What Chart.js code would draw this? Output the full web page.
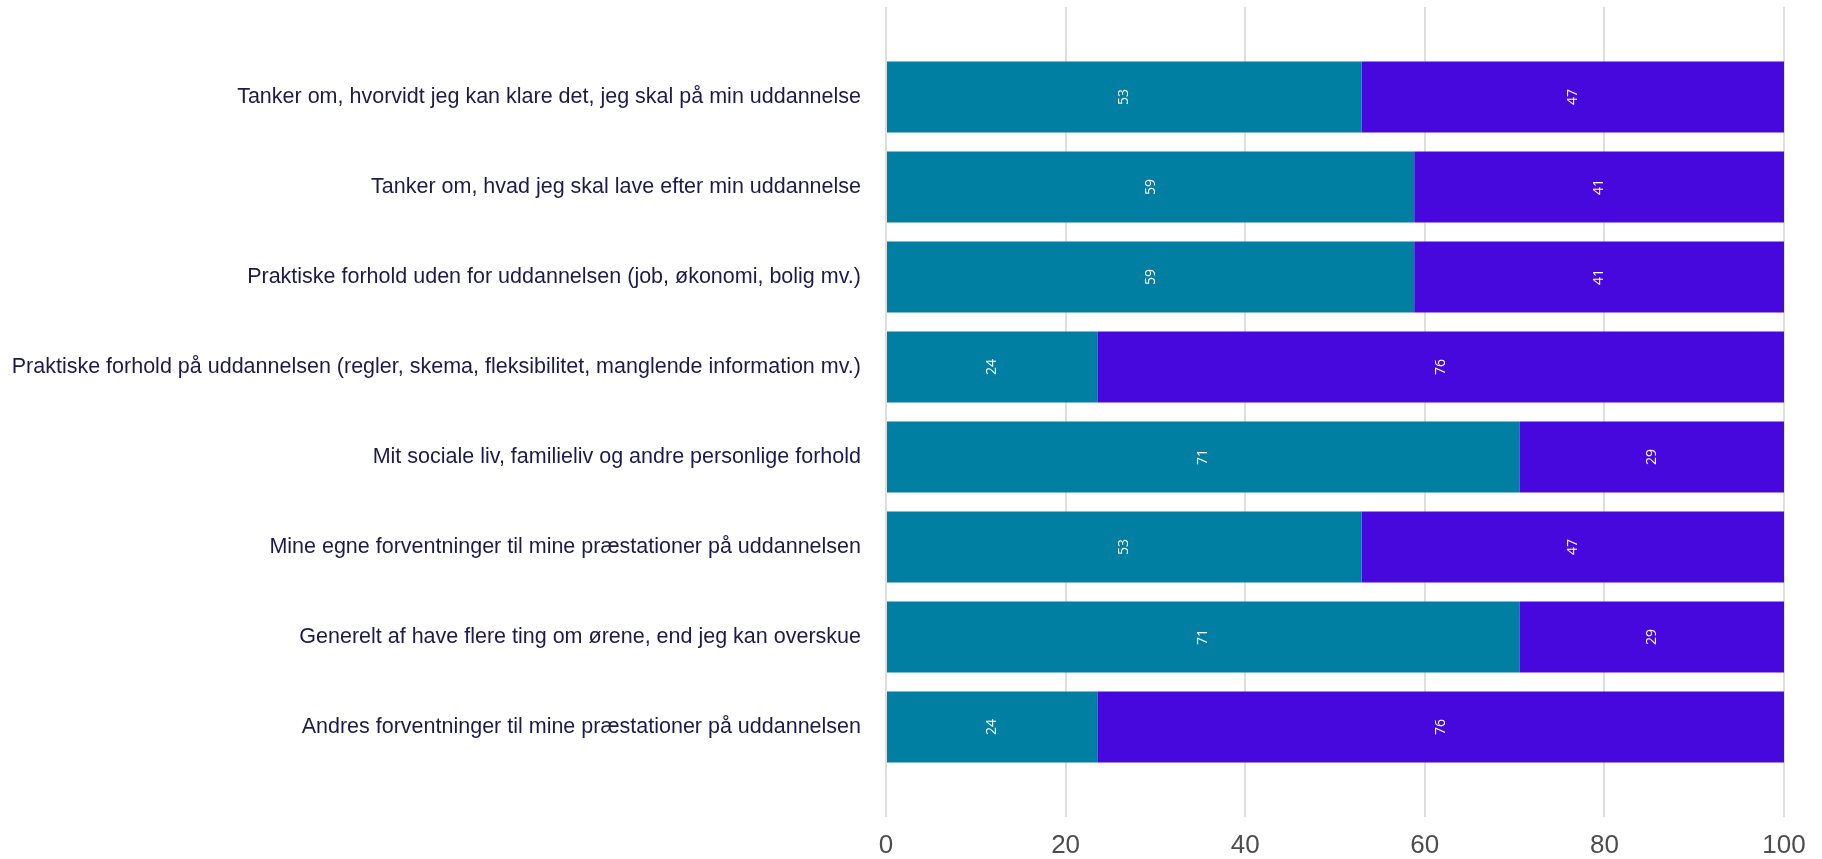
<!DOCTYPE html>
<html>
<head>
<meta charset="utf-8">
<script src="https://cdn.jsdelivr.net/npm/chart.js@4/dist/chart.umd.min.js"></script>
<style>
    html, body { margin: 0; padding: 0; background: #ffffff; }
    #wrap { width: 1822px; height: 859px; position: relative; }
</style>
</head>
<body>
<div id="wrap"><canvas id="chart"></canvas></div>
<script>
// categories, top to bottom
const categories = [
    "Tanker om, hvorvidt jeg kan klare det, jeg skal på min uddannelse",
    "Tanker om, hvad jeg skal lave efter min uddannelse",
    "Praktiske forhold uden for uddannelsen (job, økonomi, bolig mv.)",
    "Praktiske forhold på uddannelsen (regler, skema, fleksibilitet, manglende information mv.)",
    "Mit sociale liv, familieliv og andre personlige forhold",
    "Mine egne forventninger til mine præstationer på uddannelsen",
    "Generelt af have flere ting om ørene, end jeg kan overskue",
    "Andres forventninger til mine præstationer på uddannelsen"
];

// percentages
const seriesA = [52.94, 58.82, 58.82, 23.53, 70.59, 52.94, 70.59, 23.53];
const seriesB = [47.06, 41.18, 41.18, 76.47, 29.41, 47.06, 29.41, 76.47];

const xTicks = [0, 20, 40, 60, 80, 100];

const colorA = "#007fa3";
const colorB = "#4608dd";

function toPoints(values)
{
    return values.map((v, i) => ({ x: v, y: i + 1 }));
}

// white rotated value labels in the middle of each segment
const barLabels = {
    id: "barLabels",
    afterDatasetsDraw(chart)
    {
        const ctx = chart.ctx;
        ctx.save();
        ctx.fillStyle = "#ffffff";
        ctx.font = "14px 'Open Sans', 'DejaVu Sans', sans-serif";
        ctx.textAlign = "center";
        ctx.textBaseline = "middle";
        chart.data.datasets.forEach((ds, di) =>
        {
            const meta = chart.getDatasetMeta(di);
            meta.data.forEach((bar, i) =>
            {
                const cx = (bar.x + bar.base) / 2;
                ctx.save();
                ctx.translate(cx, bar.y);
                ctx.rotate(-Math.PI / 2);
                ctx.fillText(String(Math.round(ds.data[i].x)), 0, 0);
                ctx.restore();
            });
        });
        ctx.restore();
    }
};

const ctx = document.getElementById("chart").getContext("2d");

new Chart(ctx,
    {
        type: "bar",
        data: {
            datasets: [
                {
                    label: "A",
                    data: toPoints(seriesA),
                    backgroundColor: colorA,
                    borderWidth: 0,
                    categoryPercentage: 1,
                    barPercentage: 0.79
                },
                {
                    label: "B",
                    data: toPoints(seriesB),
                    backgroundColor: colorB,
                    borderWidth: 0,
                    categoryPercentage: 1,
                    barPercentage: 0.79
                }
            ]
        },
        options: {
            indexAxis: "y",
            responsive: true,
            maintainAspectRatio: false,
            animation: false,
            layout: { padding: { top: 7, right: 38, bottom: 0, left: 0 } },
            plugins: {
                legend: { display: false },
                tooltip: { enabled: false }
            },
            scales: {
                x: {
                    type: "linear",
                    stacked: true,
                    min: 0,
                    max: 100,
                    afterBuildTicks: (scale) => { scale.ticks = xTicks.map(v => ({ value: v })); },
                    afterFit: (scale) => { scale.height = 42; scale.paddingLeft = 0; scale.paddingRight = 0; },
                    grid: {
                        color: "#dedede",
                        lineWidth: 2,
                        drawTicks: false
                    },
                    border: { display: false },
                    ticks: {
                        color: "#4d4d4d",
                        padding: 13,
                        font: { family: "'Liberation Sans', Arial, sans-serif", size: 26 }
                    }
                },
                y: {
                    type: "linear",
                    stacked: true,
                    reverse: true,
                    offset: false,
                    min: 0,
                    max: 9,
                    afterBuildTicks: (scale) => { scale.ticks = categories.map((c, i) => ({ value: i + 1 })); },
                    afterFit: (scale) => { scale.width = 886; scale.paddingTop = 0; scale.paddingBottom = 0; },
                    grid: { display: false, offset: false, drawTicks: false },
                    border: { display: false },
                    ticks: {
                        color: "#1e1a4c",
                        padding: 25,
                        autoSkip: false,
                        font: { family: "'Liberation Sans', Arial, sans-serif", size: 21.5 },
                        callback: (v) => categories[v - 1] || ""
                    }
                }
            }
        },
        plugins: [barLabels]
    });
</script>
</body>
</html>
